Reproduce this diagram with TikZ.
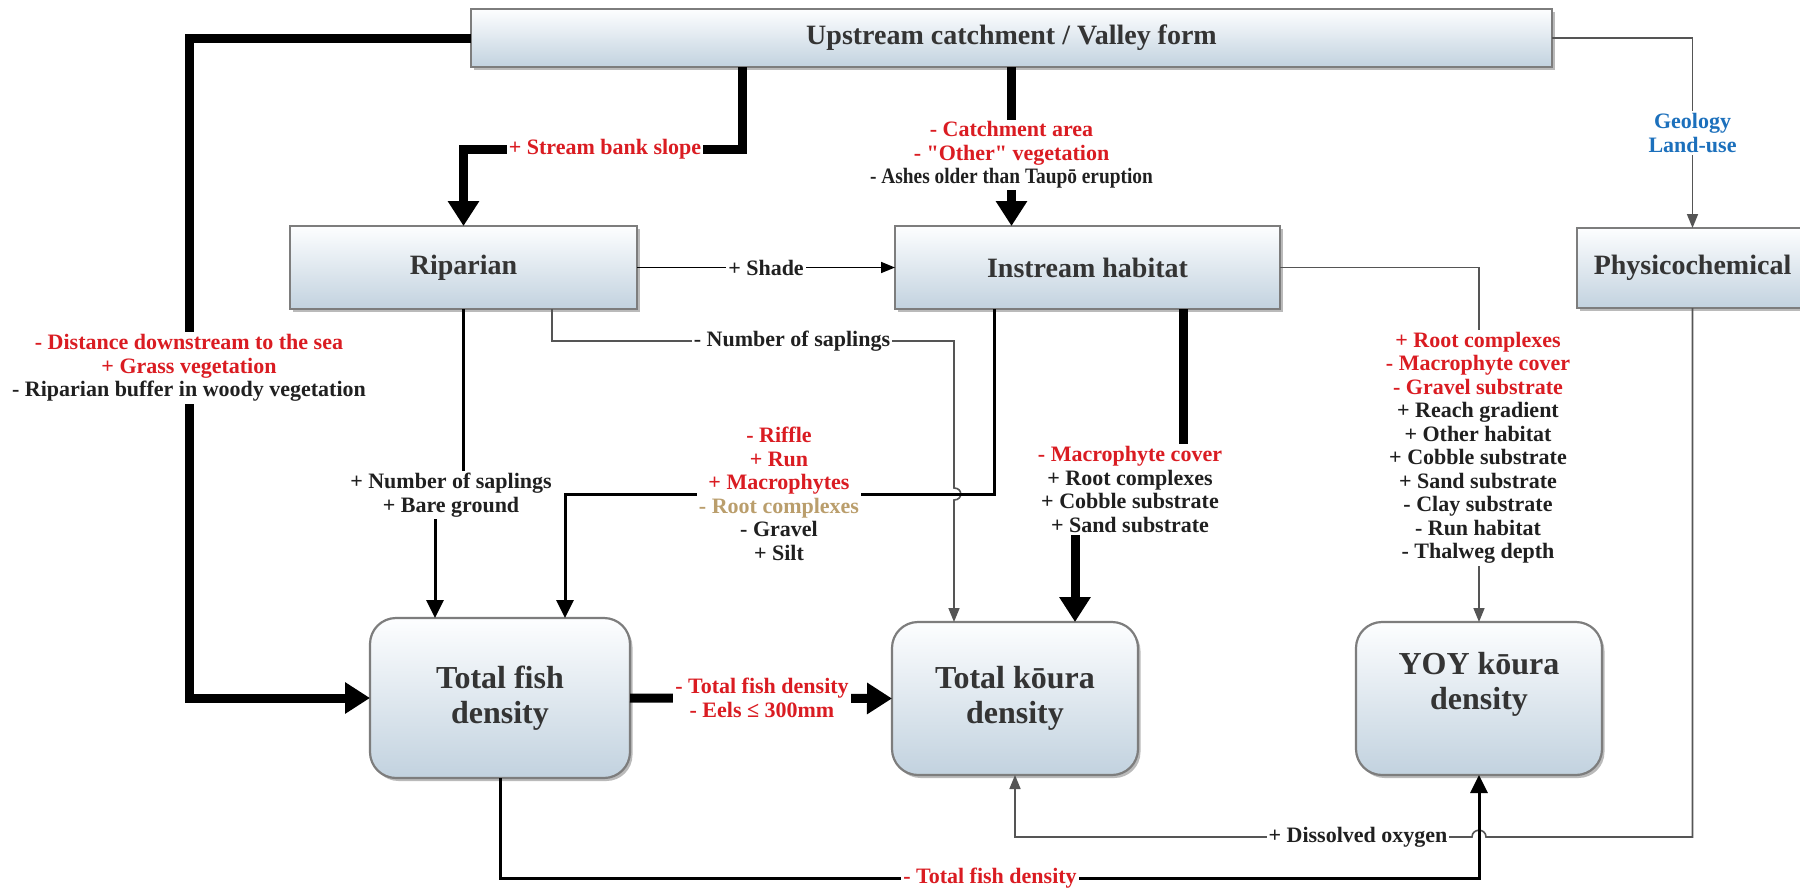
\documentclass[tikz,border=0pt]{standalone}
\usepackage{fontspec}
\setmainfont{Liberation Serif}[Ligatures=TeXOff]
\usetikzlibrary{arrows.meta,shadows,calc}

\definecolor{boxtop}{RGB}{253,254,255}
\definecolor{boxbot}{RGB}{194,210,223}
\definecolor{boxline}{RGB}{125,125,125}
\definecolor{lblred}{RGB}{218,28,34}
\definecolor{lblblue}{RGB}{28,112,188}
\definecolor{lbltan}{RGB}{186,158,108}
\definecolor{txtdark}{RGB}{52,52,52}
\definecolor{lbldark}{RGB}{32,32,32}
\definecolor{linegray}{RGB}{85,85,85}

\tikzset{
  boxbase/.style={draw=boxline, line width=2.2pt, top color=boxtop, bottom color=boxbot,
    drop shadow={shadow xshift=2.5pt, shadow yshift=-3pt, opacity=0.45, fill=black!60},
    inner sep=0pt, outer sep=0pt, align=center, text=txtdark},
  rectbox/.style={boxbase, font=\fontsize{28}{32}\selectfont\bfseries},
  roundbox/.style={boxbase, rounded corners=26pt, font=\fontsize{32}{35}\selectfont\bfseries},
  lbl/.style={fill=white, inner sep=2pt, align=center, text=lbldark,
    font=\fontsize{22}{23.5}\selectfont\bfseries},
  thickline/.style={line width=9pt, black, -{Triangle[width=30pt,length=25pt]}},
  medline/.style={line width=3pt, black, -{Triangle[width=17pt,length=18pt]}},
  thinline/.style={line width=1.6pt, linegray, -{Triangle[width=11pt,length=14pt]}},
}

\begin{document}
\begin{tikzpicture}[x=1pt,y=-1pt]
\useasboundingbox (0,0) rectangle (1800,892);
\fill[white] (0,0) rectangle (1800,892);
\clip (0,0) rectangle (1800,892);

% ---------- boxes ----------
\node[rectbox, minimum width=1081pt, minimum height=58pt] (top) at (1011.5,38) {Upstream catchment / Valley form};
\node[rectbox, minimum width=347pt, minimum height=83pt] (rip) at (463.5,267.5) {Riparian};
\node[rectbox, minimum width=385pt, minimum height=83pt] (inst) at (1087.5,267.5) {Instream habitat};
\node[rectbox, minimum width=231pt, minimum height=80pt] (phys) at (1692.5,268) {Physicochemical};
\node[roundbox, minimum width=260pt, minimum height=160pt] (fish) at (500,698) {Total fish\\density};
\node[roundbox, minimum width=246pt, minimum height=153pt] (koura) at (1015,698.5) {Total kōura\\density};
\node[roundbox, minimum width=246pt, minimum height=153pt] (yoy) at (1479,698.5) {YOY kōura\\density\\~};

% ---------- connectors ----------
% upstream -> total fish (thick, far left)
\draw[thickline] (top.west) -- ++(-282,0) |- (fish.west);
% upstream -> riparian (stream bank slope)
\draw[thickline] ([xshift=-269.5pt]top.south) -- ++(0,82) -| (rip.north);
% upstream -> instream
\draw[thickline] (top.south) -- (top.south |- inst.north);
% upstream -> physicochemical
\draw[thinline] (top.east) -| (phys.north);
% riparian -> instream (shade)
\draw[thinline, black] (rip.east) -- (inst.west);
% riparian -> total koura (number of saplings), hop over instream->fish line
\draw[thinline] ([xshift=88.5pt]rip.south) -- ++(0,32) -| ([xshift=-61pt,yshift=134pt]koura.north)
   .. controls +(9,0) and +(9,0) .. ++(0,12) -- ([xshift=-61pt]koura.north);
% riparian -> total fish
\draw[medline] (rip.south) -- ++(0,186) -| ([xshift=-65pt]fish.north);
% instream -> total fish
\draw[medline] ([xshift=-93.5pt]inst.south) -- ++(0,185) -| ([xshift=65pt]fish.north);
% instream -> total koura (thick)
\draw[thickline] ([xshift=95.5pt]inst.south) -- ++(0,180) -| ([xshift=60pt]koura.north);
% instream -> YOY koura
\draw[thinline] (inst.east) -| (yoy.north);
% physicochemical -> total koura (dissolved oxygen), hop over fish->YOY line
\draw[thinline] (phys.south) |- ($(yoy.south)+(7,62)$)
   .. controls +(0,-9) and +(0,-9) .. ++(-14,0) -| (koura.south);
% total fish -> YOY koura
\draw[medline] (fish.south) -- ++(0,100) -| (yoy.south);
% total fish -> total koura (thick)
\draw[thickline] (fish.east) -- (koura.west);

% ---------- labels ----------
\node[lbl] (ldist) at (189,368) {\textcolor{lblred}{- Distance downstream to the sea}\\\textcolor{lblred}{+ Grass vegetation}\\- Riparian buffer in woody vegetation};
\node[lbl, text=lblred] (lbank) at (605,149) {+ Stream bank slope};
\node[lbl] (lcatch) at (1011.5,155) {\textcolor{lblred}{- Catchment area}\\\textcolor{lblred}{- "Other" vegetation}\\\scalebox{0.88}[1]{- Ashes older than Taupō eruption}};
\node[lbl, text=lblblue] (lgeo) at (1692.5,133) {Geology\\Land-use};
\node[lbl] (lshade) at (766,267.5) {+ Shade};
\node[lbl] (lsap) at (792,341) {- Number of saplings};
\node[lbl] (lbare) at (451,495) {+ Number of saplings\\+ Bare ground};
\node[lbl] (lriffle) at (779,494) {\textcolor{lblred}{- Riffle}\\\textcolor{lblred}{+ Run}\\\textcolor{lblred}{+ Macrophytes}\\\textcolor{lbltan}{- Root complexes}\\- Gravel\\+ Silt};
\node[lbl] (lmacro) at (1130,489.5) {\textcolor{lblred}{- Macrophyte cover}\\+ Root complexes\\+ Cobble substrate\\+ Sand substrate};
\node[lbl] (lyoy) at (1478,448) {\textcolor{lblred}{+ Root complexes}\\\textcolor{lblred}{- Macrophyte cover}\\\textcolor{lblred}{- Gravel substrate}\\+ Reach gradient\\+ Other habitat\\+ Cobble substrate\\+ Sand substrate\\- Clay substrate\\- Run habitat\\- Thalweg depth};
\node[lbl, text=lblred] (leels) at (762,698) {- Total fish density\\- Eels ≤ 300mm};
\node[lbl] (ldo) at (1358,837) {+ Dissolved oxygen};
\node[lbl, text=lblred] (lfishyoy) at (990,878) {- Total fish density};
\end{tikzpicture}
\end{document}
